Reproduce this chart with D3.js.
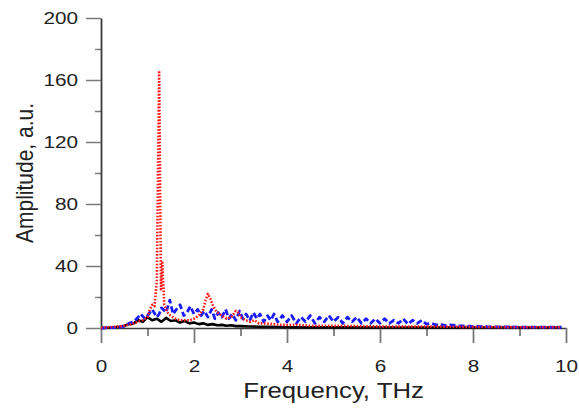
<!DOCTYPE html>
<html>
<head>
<meta charset="utf-8">
<script src="https://cdn.jsdelivr.net/npm/d3@7"></script>
<style>
  body { margin: 0; background: #fff; }
  svg { font-family: "Liberation Sans", Arial, sans-serif; }
</style>
</head>
<body>
<div id="chart"></div>
<script>
// values
const redF = [0, 0.2, 0.4, 0.5, 0.6, 0.7, 0.8, 0.9, 1.0, 1.05, 1.1, 1.15, 1.2, 1.25, 1.29, 1.32, 1.36, 1.4, 1.45, 1.5,
  1.6, 1.7, 1.8, 1.9, 2.0, 2.1, 2.2, 2.25, 2.3, 2.35, 2.4, 2.45, 2.5, 2.6, 2.7, 2.8, 2.9, 2.95, 3.0, 3.1,
  3.2, 3.3, 3.4, 3.5, 3.7, 3.9, 4.2, 4.5, 5, 5.5, 6, 6.5, 7, 7.5, 8, 8.5, 9, 9.5, 9.9];
const redA = [0.3, 0.5, 1, 1.5, 2, 3, 4, 5, 7, 12, 15, 14, 30, 166, 25, 42, 15, 12, 9, 8,
  6, 5, 5, 5, 6, 8, 12, 18, 22, 19, 15, 12, 10, 8, 6, 7, 11, 10, 7, 5,
  4, 5, 3, 3, 2.5, 2, 2, 1.5, 1.5, 1.2, 1, 1, 1, 0.8, 0.7, 0.6, 0.5, 0.5, 0.5];

const blueF = [0, 0.2, 0.4, 0.5, 0.6, 0.7, 0.8, 0.85, 0.95, 1.0,
  1.1, 1.2, 1.25, 1.3, 1.4, 1.48, 1.55, 1.62, 1.7, 1.78,
  1.85, 1.92, 2.0, 2.08, 2.15, 2.22, 2.3, 2.38, 2.45, 2.52,
  2.6, 2.68, 2.75, 2.82, 2.9, 2.98, 3.05, 3.12, 3.2, 3.28,
  3.35, 3.42, 3.5, 3.58, 3.65, 3.72, 3.8, 3.9, 4.0, 4.1,
  4.2, 4.3, 4.4, 4.5, 4.6, 4.7, 4.8, 4.9, 5.0, 5.1,
  5.2, 5.3, 5.4, 5.5, 5.6, 5.7, 5.8, 5.9, 6.0, 6.1,
  6.2, 6.3, 6.4, 6.5, 6.6, 6.7, 6.8, 6.9, 7.0, 7.1,
  7.2, 7.3, 7.4, 7.5, 7.7, 7.9, 8.1, 8.3, 8.6, 9,
  9.5, 9.9];
const blueA = [0, 0.2, 0.5, 1, 3, 4, 7, 9, 6, 8,
  12, 7, 9, 13, 10, 18, 9, 12, 15, 8,
  10, 14, 9, 12, 8, 11, 7, 12, 6, 10,
  7, 12, 6, 9, 5, 11, 6, 9, 5, 10,
  6, 9, 4, 8, 5, 9, 4, 8, 4, 8,
  3, 7, 4, 8, 3, 7, 4, 8, 4, 7,
  3, 7, 4, 7, 3, 6, 3, 6, 3, 6,
  3, 5, 3, 6, 2.5, 5, 3, 5, 2.5, 3,
  2, 2.5, 1.5, 2, 1.5, 1.2, 1, 0.8, 0.7, 0.6,
  0.5, 0.5];

const blackF = [0, 0.2, 0.4, 0.5, 0.6, 0.7, 0.8, 0.9, 1.0, 1.1,
  1.2, 1.3, 1.4, 1.5, 1.6, 1.7, 1.8, 1.9, 2.0, 2.1,
  2.2, 2.3, 2.4, 2.5, 2.6, 2.7, 2.8, 2.9, 3.0, 3.2,
  3.4, 3.6, 3.8, 4.0, 4.5, 5, 6, 7, 8, 9, 9.9];
const blackA = [0, 0.3, 0.8, 1.5, 2.5, 3, 5, 4, 7, 5,
  6, 4, 6.5, 4.5, 5, 3.5, 4.5, 3, 3.5, 2.5,
  3, 2, 2.5, 1.8, 2, 1.5, 1.8, 1.2, 1.2, 1,
  0.8, 0.7, 0.6, 0.5, 0.4, 0.4, 0.3, 0.3, 0.3, 0.3, 0.3];

const xTicks = [0, 2, 4, 6, 8, 10];
const xMinor = [1, 3, 5, 7, 9];
const yTicks = [0, 40, 80, 120, 160, 200];
const yMinor = [20, 60, 100, 140, 180];

const width = 579, height = 408;
const margin = {left: 101, right: 13, top: 18, bottom: 80};
const stretch = 1.22; // the source picture is a bit wider than tall

const svg = d3.select("#chart").append("svg")
  .attr("width", width)
  .attr("height", height);

const x = d3.scaleLinear().domain([0, 10]).range([margin.left, width - margin.right]);
const y = d3.scaleLinear().domain([0, 200]).range([height - margin.bottom, margin.top]);

const axisColor = "#3a3a3a";
const tickColor = "#7a7a7a";

// minor ticks first
svg.append("g")
  .attr("transform", `translate(0,${y(0)})`)
  .call(d3.axisBottom(x).tickValues(xMinor).tickSize(8).tickFormat(""))
  .call(g => g.select(".domain").remove())
  .call(g => g.selectAll("line").attr("stroke", tickColor).attr("stroke-width", 1.8));

svg.append("g")
  .attr("transform", `translate(${x(0)},0)`)
  .call(d3.axisLeft(y).tickValues(yMinor).tickSize(6).tickFormat(""))
  .call(g => g.select(".domain").remove())
  .call(g => g.selectAll("line").attr("stroke", tickColor).attr("stroke-width", 1.5));

// major ticks + labels
svg.append("g")
  .attr("transform", `translate(0,${y(0)})`)
  .call(d3.axisBottom(x).tickValues(xTicks).tickSize(15).tickSizeOuter(0).tickPadding(17).tickFormat(d3.format("d")))
  .call(g => g.select(".domain").attr("stroke", axisColor).attr("stroke-width", 1.6))
  .call(g => g.selectAll("line").attr("stroke", tickColor).attr("stroke-width", 1.8))
  .call(g => g.selectAll("text").attr("font-size", 17).attr("fill", "#222")
    .attr("transform", `scale(${stretch},1)`));

svg.append("g")
  .attr("transform", `translate(${x(0)},0)`)
  .call(d3.axisLeft(y).tickValues(yTicks).tickSize(15).tickSizeOuter(0).tickPadding(8).tickFormat(d3.format("d")))
  .call(g => g.select(".domain").attr("stroke", axisColor).attr("stroke-width", 1.8))
  .call(g => g.selectAll("line").attr("stroke", tickColor).attr("stroke-width", 1.5))
  .call(g => g.selectAll("text").attr("font-size", 17).attr("fill", "#222").attr("dy", "0.35em")
    .attr("x", -23 / stretch)
    .attr("transform", `scale(${stretch},1)`));

// axis titles
svg.append("text")
  .attr("transform", `translate(${(x(0) + x(10)) / 2},398) scale(1.17,1)`)
  .attr("text-anchor", "middle")
  .attr("font-size", 22)
  .attr("fill", "#222")
  .text("Frequency, THz");

svg.append("text")
  .attr("transform", `translate(33,${(y(0) + y(200)) / 2}) scale(1.17,1) rotate(-90)`)
  .attr("text-anchor", "middle")
  .attr("font-size", 21)
  .attr("fill", "#222")
  .text("Amplitude, a.u.");

const line = d3.line()
  .x(d => x(d[0]))
  .y(d => y(d[1]));

const series = [
  {f: blackF, a: blackA, color: "#000000", dash: null, w: 2.6},
  {f: blueF, a: blueA, color: "#1a1aff", dash: "6,3", w: 2.8},
  {f: redF, a: redA, color: "#ff1a1a", dash: "1.6,1.6", w: 2.6}
];

svg.append("g")
  .selectAll("path")
  .data(series)
  .enter()
  .append("path")
  .attr("d", s => line(s.f.map((f, i) => [f, s.a[i]])))
  .attr("fill", "none")
  .attr("stroke", s => s.color)
  .attr("stroke-width", s => s.w)
  .attr("stroke-dasharray", s => s.dash)
  .attr("stroke-linejoin", "round");
</script>
</body>
</html>
